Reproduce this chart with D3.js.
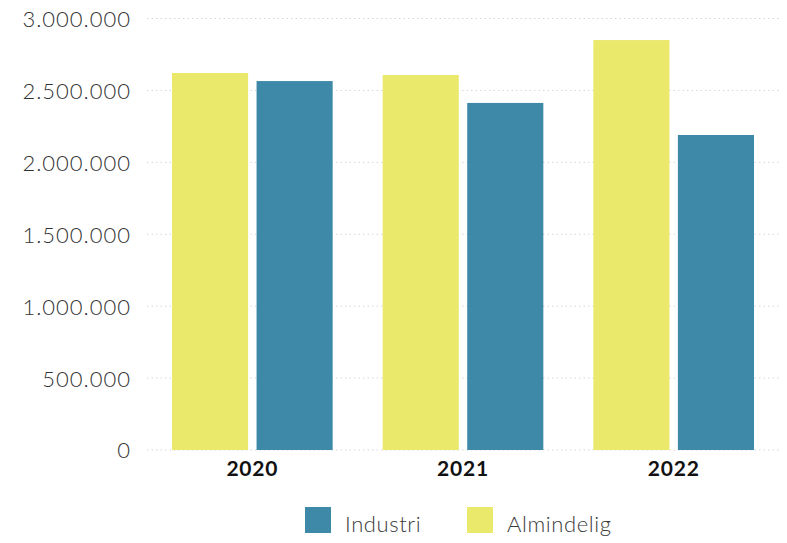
<!DOCTYPE html>
<html>
<head>
<meta charset="utf-8">
<script src="https://cdn.jsdelivr.net/npm/d3@7"></script>
<style>
  html, body { margin: 0; padding: 0; background: #fff; }
  svg { display: block; }
</style>
</head>
<body>
<svg id="chart" width="787" height="543"></svg>
<script>
// Yearly volumes by customer type
const years = ["2020", "2021", "2022"];
const seriesNames = ["Almindelig", "Industri"];
const almindelig = [2621000, 2607000, 2850000];
const industri = [2565000, 2413000, 2190000];
const yTicks = [0, 500000, 1000000, 1500000, 2000000, 2500000, 3000000];
const legendOrder = ["Industri", "Almindelig"];

const colors = { Almindelig: "#ebe96b", Industri: "#3e89a8" };
const values = { Almindelig: almindelig, Industri: industri };

const svg = d3.select("#chart");
const margin = { left: 147, right: 8, top: 18.5, bottom: 93 };
const W = 787, H = 543;

const x = d3.scaleBand().domain(years).range([margin.left, W - margin.right]).paddingInner(0).paddingOuter(0);
const xInner = d3.scaleBand().domain(seriesNames).range([25, x.bandwidth() - 25]).paddingInner(0.1);
const y = d3.scaleLinear().domain([0, 3000000]).range([H - margin.bottom, margin.top]);

const fmt = v => d3.format(",")(v).replace(/,/g, ".");

// gridlines
svg.append("g")
  .selectAll("line")
  .data(yTicks)
  .join("line")
  .attr("x1", margin.left)
  .attr("x2", W - margin.right)
  .attr("y1", d => y(d))
  .attr("y2", d => y(d))
  .attr("stroke", "#d6d6d6")
  .attr("stroke-width", 1)
  .attr("stroke-dasharray", "1.5,3");

// y axis labels
const yAxis = d3.axisLeft(y).tickValues(yTicks).tickFormat(fmt).tickSize(0).tickPadding(0);
const gy = svg.append("g").attr("transform", `translate(${margin.left - 16},0)`).call(yAxis);
gy.select(".domain").remove();
gy.selectAll("text")
  .attr("font-family", "Lato, sans-serif")
  .attr("font-weight", 300)
  .attr("font-size", 22)
  .attr("letter-spacing", 1)
  .attr("fill", "#333")
  .attr("dy", "0.36em");

// bars
const groups = svg.append("g")
  .selectAll("g")
  .data(years)
  .join("g")
  .attr("transform", d => `translate(${x(d)},0)`);

groups.selectAll("rect")
  .data((d, i) => seriesNames.map(s => ({ s, v: values[s][i] })))
  .join("rect")
  .attr("x", d => xInner(d.s))
  .attr("width", xInner.bandwidth())
  .attr("y", d => y(d.v))
  .attr("height", d => y(0) - y(d.v))
  .attr("fill", d => colors[d.s]);

// x axis labels
const xAxis = d3.axisBottom(x).tickSize(0).tickPadding(0);
const gx = svg.append("g").attr("transform", `translate(0,${y(0) + 7})`).call(xAxis);
gx.select(".domain").remove();
gx.selectAll("text")
  .attr("font-family", "Lato, sans-serif")
  .attr("font-weight", 700)
  .attr("font-size", 21)
  .attr("letter-spacing", 0.8)
  .attr("fill", "#111")
  .attr("dy", "0.9em");

// legend
const legendX = [305, 467];
const legend = svg.append("g")
  .selectAll("g")
  .data(legendOrder)
  .join("g")
  .attr("transform", (d, i) => `translate(${legendX[i]},507)`);
legend.append("rect")
  .attr("width", 26).attr("height", 26)
  .attr("fill", d => colors[d]);
legend.append("text")
  .attr("x", 40)
  .attr("y", 25)
  .attr("font-family", "Lato, sans-serif")
  .attr("font-weight", 300)
  .attr("font-size", 22)
  .attr("letter-spacing", 0.6)
  .attr("fill", "#3a3a3a")
  .text(d => d);
</script>
</body>
</html>
